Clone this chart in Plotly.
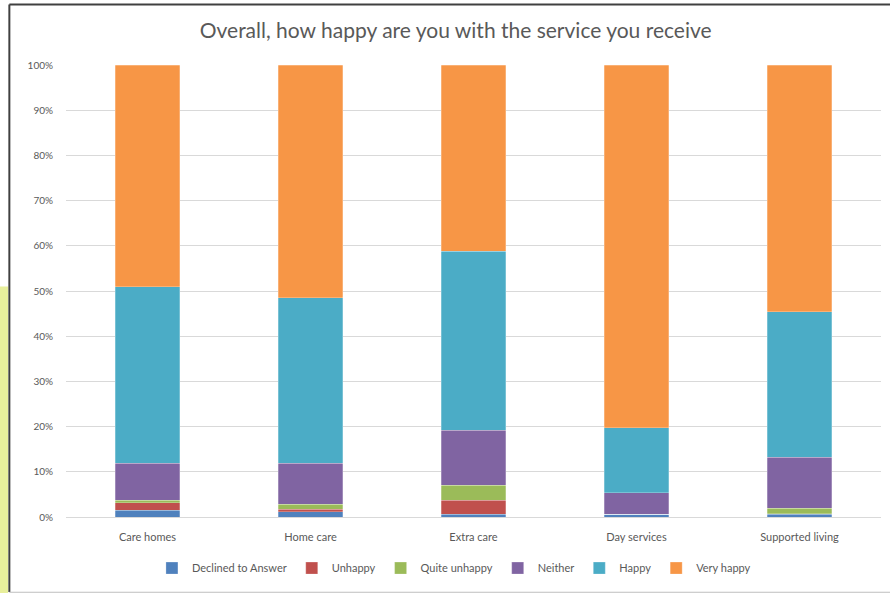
import plotly.graph_objects as go

categories = ["Care homes", "Home care", "Extra care", "Day services", "Supported living"]
series_names = ["Declined to Answer", "Unhappy", "Quite unhappy", "Neither", "Happy", "Very happy"]
declined = [1.5, 1.2, 0.6, 0.6, 0.6]
unhappy = [1.7, 0.5, 3.1, 0.0, 0.1]
quite_unhappy = [0.5, 1.1, 3.3, 0.0, 1.2]
neither = [8.2, 9.1, 12.2, 4.8, 11.3]
happy = [39.0, 36.6, 39.6, 14.4, 32.2]
very_happy = [49.1, 51.5, 41.2, 80.2, 54.6]
colors = ["#4F81BD", "#C0504D", "#9BBB59", "#8064A2", "#4BACC6", "#F79646"]
y_ticks = [0, 10, 20, 30, 40, 50, 60, 70, 80, 90, 100]
y_tick_labels = [f"{v}%" for v in y_ticks]

values = [declined, unhappy, quite_unhappy, neither, happy, very_happy]

fig = go.Figure()
for name, vals, col in zip(series_names, values, colors):
    fig.add_trace(go.Bar(
        x=categories, y=vals, name=name,
        marker=dict(color=col, line=dict(color="rgba(255,255,255,0.5)", width=0.5)),
    ))

font_family = "Lato, 'Open Sans', sans-serif"
fig.update_layout(
    barmode="stack",
    barnorm="percent",
    bargap=0.605,
    width=890, height=593,
    margin=dict(l=66, r=9, t=65, b=76),
    paper_bgcolor="white", plot_bgcolor="white",
    font=dict(family=font_family, color="#595959", size=11),
    title=dict(text="Overall, how happy are you with the service you receive",
               x=0.512, xanchor="center", y=0.948, yanchor="middle",
               font=dict(size=21, color="#595959", family=font_family)),
    legend=dict(orientation="h", x=0.476, xanchor="center", y=-0.113, yanchor="middle",
                font=dict(size=11, color="#595959"), traceorder="normal",
                itemwidth=30, bgcolor="rgba(0,0,0,0)"),
    xaxis=dict(showgrid=False, showline=False, ticks="outside", ticklen=10,
               tickcolor="rgba(0,0,0,0)", tickfont=dict(size=11, color="#595959")),
    yaxis=dict(range=[0, 100], tickvals=y_ticks, ticktext=y_tick_labels, showgrid=True,
               gridcolor="#D9D9D9", gridwidth=1, zeroline=True, zerolinecolor="#D9D9D9",
               zerolinewidth=1, ticks="outside", ticklen=10, tickcolor="rgba(0,0,0,0)",
               tickfont=dict(size=10, color="#595959")),
    shapes=[
        dict(type="rect", xref="paper", yref="paper", x0=-0.081, x1=-0.071, y0=-0.17, y1=0.51,
             fillcolor="#E8EF9C", line=dict(width=0), layer="below"),
        dict(type="line", xref="paper", yref="paper", x0=-0.0695, x1=-0.0695, y0=-0.166, y1=1.134,
             line=dict(color="#404040", width=2)),
        dict(type="line", xref="paper", yref="paper", x0=-0.0695, x1=1.02, y0=1.134, y1=1.134,
             line=dict(color="#404040", width=2)),
        dict(type="line", xref="paper", yref="paper", x0=-0.0695, x1=1.02, y0=-0.1665, y1=-0.1665,
             line=dict(color="#BFBFBF", width=1)),
    ],
)

fig.write_html("out.html")
